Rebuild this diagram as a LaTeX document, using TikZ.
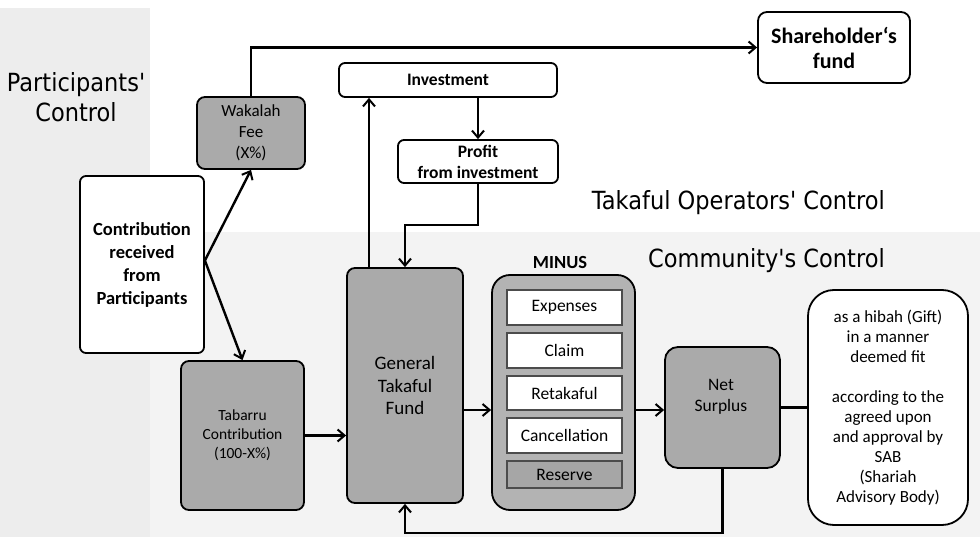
\documentclass[tikz,border=0pt]{standalone}
\usepackage{fontspec}
\setmainfont{Carlito}
\newfontfamily\ctlfont[FakeStretch=0.9]{DejaVu Sans}
\usetikzlibrary{arrows.meta,calc}

\definecolor{boxgray}{HTML}{AAAAAA}
\definecolor{panelgray}{HTML}{B3B3B3}
\definecolor{resgray}{HTML}{A6A6A6}
\definecolor{bgleft}{HTML}{EDEDED}
\definecolor{bglow}{HTML}{F3F3F3}

\tikzset{
  fbox/.style={draw=black, line width=1.8pt, inner sep=0pt, align=center,
               font=\fontsize{17}{21}\selectfont},
  whitebox/.style={fbox, fill=white, rounded corners=6pt},
  graybox/.style={fbox, fill=boxgray, rounded corners=8pt},
  itembox/.style={draw=black!70, line width=1.2pt, fill=white, inner sep=0pt,
                  minimum width=115pt, font=\fontsize{17.5}{20}\selectfont},
  flow/.style={line width=2.4pt, -{Straight Barb[length=7pt,width=12pt,line width=2pt]}},
  plain/.style={line width=2.4pt},
  ctl/.style={font=\ctlfont\fontsize{25}{30}\selectfont, inner sep=0pt, align=center}
}

\begin{document}
\begin{tikzpicture}[x=1pt,y=-1pt]
  % page frame and background shading
  \useasboundingbox (0,0) rectangle (980,537);
  \fill[white] (0,0) rectangle (980,537);
  \fill[bglow] (0,232) rectangle (980,537);
  \fill[bgleft] (0,8) rectangle (150,537);

  % control areas
  \node[ctl] (pctl) at (76,97) {Participants'\\Control};
  \node[ctl, anchor=east] (tctl) at (885,203) {Takaful Operators' Control};
  \node[ctl, anchor=east] (cctl) at (885,261) {Community's Control};

  % participants' side
  \node[whitebox, minimum width=124pt, minimum height=177pt, font=\bfseries\fontsize{18.5}{23}\selectfont]
    (contrib) at (142,264.5) {Contribution\\received\\from\\Participants};
  \node[graybox, minimum width=108pt, minimum height=72pt, font=\fontsize{17}{21}\selectfont]
    (wak) at (251,133) {Wakalah\\Fee\\(X\%)};
  \node[graybox, minimum width=123pt, minimum height=149pt, font=\fontsize{15.5}{19}\selectfont]
    (tab) at (242.5,435.5) {Tabarru\\Contribution\\(100-X\%)};

  % fund and investment
  \node[graybox, minimum width=116pt, minimum height=235pt, font=\fontsize{19}{22.5}\selectfont]
    (gtf) at (405,385.5) {General\\Takaful\\Fund};
  \node[whitebox, minimum width=218pt, minimum height=34pt, font=\bfseries\fontsize{17.5}{21}\selectfont]
    (inv) at (448,80) {Investment};
  \node[whitebox, minimum width=160pt, minimum height=43pt, font=\bfseries\fontsize{17.5}{21}\selectfont]
    (prof) at (478,161.5) {Profit\\from investment};
  \node[whitebox, rounded corners=9pt, minimum width=152pt, minimum height=71pt,
        font=\bfseries\fontsize{22}{25}\selectfont]
    (share) at (834,47.5) {Shareholder\char"0060 s\\fund};

  % deductions panel
  \node[draw=black, line width=1.8pt, fill=panelgray, rounded corners=18pt,
        minimum width=143pt, minimum height=235pt] (minus) at (563.5,392.5) {};
  \node[font=\bfseries\fontsize{18.5}{19}\selectfont, inner sep=0pt] (mlabel) at (560,263) {MINUS};
  \node[itembox, minimum height=35pt] (exp)   at (564.5,307.5) {Expenses};
  \node[itembox, minimum height=35pt] (claim) at (564.5,350.5) {Claim};
  \node[itembox, minimum height=34pt] (ret)   at (564.5,393)   {Retakaful};
  \node[itembox, minimum height=35pt] (canc)  at (564.5,435.5) {Cancellation};
  \node[itembox, fill=resgray, minimum height=27pt] (res) at (564.5,474.5) {Reserve};

  % surplus and its distribution
  \node[graybox, rounded corners=13pt, minimum width=115pt, minimum height=121pt]
    (net) at (722.5,407.5) {};
  \node[font=\fontsize{17.5}{21}\selectfont, align=center, inner sep=0pt] (netlbl) at (721,397) {Net\\Surplus};
  \node[whitebox, rounded corners=26pt, minimum width=160pt, minimum height=235pt,
        font=\fontsize{17}{20}\selectfont]
    (hibah) at (888,407.5) {as a hibah (Gift)\\in a manner\\deemed fit\\[20pt]according to the\\agreed upon\\and approval by\\SAB\\(Shariah\\Advisory Body)};

  % connectors
  \coordinate (pbend) at (0,225);
  \coordinate (mrow) at (0,410);
  \coordinate (loop) at (0,533);

  \draw[flow] ([yshift=4pt]contrib.east) -- (wak.south);
  \draw[flow] ([yshift=4pt]contrib.east) -- (tab.north);
  \draw[flow] (wak.north) |- (share.west);
  \draw[flow] (tab.east) -- (tab.east -| gtf.west);
  \draw[flow] ([xshift=-36pt]gtf.north) -- ([xshift=-36pt]gtf.north |- inv.south);
  \draw[flow] (prof.north |- inv.south) -- (prof.north);
  \draw[flow] (prof.south) |- (gtf.north |- pbend) -- (gtf.north);
  \draw[flow] (gtf.east |- mrow) -- (minus.west |- mrow);
  \draw[flow] (minus.east |- mrow) -- (net.west |- mrow);
  \draw[plain] (net.east) -- (net.east -| hibah.west);
  \draw[flow] (net.south) |- (gtf.south |- loop) -- (gtf.south);
\end{tikzpicture}
\end{document}
